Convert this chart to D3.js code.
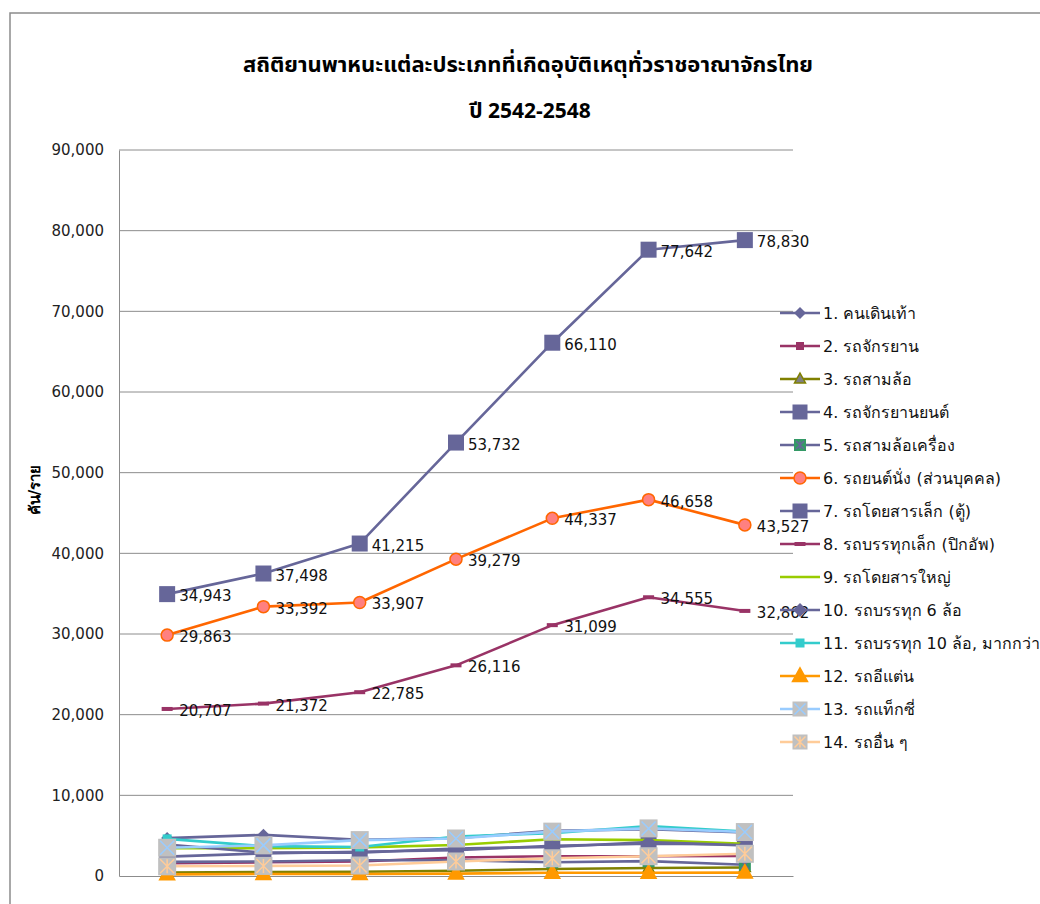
<!DOCTYPE html>
<html><head><meta charset="utf-8">
<script src="https://cdn.jsdelivr.net/npm/d3@7"></script>
<style>body{margin:0;background:#fff;overflow:hidden}</style>
</head><body>
<svg id="c" width="1040" height="904"></svg>
<script>
// ---------- data ----------
const years = ["2542","2543","2544","2545","2546","2547","2548"];
const seriesNames = [
  "1. คนเดินเท้า","2. รถจักรยาน","3. รถสามล้อ","4. รถจักรยานยนต์","5. รถสามล้อเครื่อง",
  "6. รถยนต์นั่ง (ส่วนบุคคล)","7. รถโดยสารเล็ก (ตู้)","8. รถบรรทุกเล็ก (ปิกอัพ)","9. รถโดยสารใหญ่",
  "10. รถบรรทุก 6 ล้อ","11. รถบรรทุก 10 ล้อ, มากกว่า","12. รถอีแต่น","13. รถแท็กซี่","14. รถอื่น ๆ"
];
const pedestrian   = [4700, 5100, 4500, 4700, 5600, 5800, 5400];
const bicycle      = [1600, 1700, 1800, 2300, 2450, 2450, 2500];
const tricycle     = [420, 480, 520, 660, 870, 1000, 1050];
const motorcycle   = [34943, 37498, 41215, 53732, 66110, 77642, 78830];
const tuktuk       = [1750, 1800, 1950, 1950, 1700, 1850, 1400];
const car          = [29863, 33392, 33907, 39279, 44337, 46658, 43527];
const minibus      = [2400, 2800, 3000, 3200, 3750, 4000, 3900];
const pickup       = [20707, 21372, 22785, 26116, 31099, 34555, 32862];
const bus          = [3450, 3450, 3550, 3850, 4550, 4450, 4000];
const truck6       = [3900, 2900, 2900, 3400, 3600, 4200, 3800];
const truck10      = [4600, 3700, 3600, 4900, 5300, 6200, 5500];
const etan         = [200, 250, 250, 300, 400, 400, 420];
const taxi         = [3500, 3800, 4450, 4650, 5500, 5900, 5450];
const others       = [1200, 1250, 1300, 1800, 2200, 2450, 2750];
const yTicks = [0,10000,20000,30000,40000,50000,60000,70000,80000,90000];
const labeled = [3, 5, 7]; // series with data labels

const seriesValues = [pedestrian,bicycle,tricycle,motorcycle,tuktuk,car,minibus,pickup,bus,truck6,truck10,etan,taxi,others];

// styles
const styles = [
  {line:"#666699", m:"diamond", size:6, fill:"#666699", stroke:"#666699"},
  {line:"#993366", m:"square", size:8, fill:"#993366", stroke:"#993366"},
  {line:"#808000", m:"triangle", size:11, fill:"#808080", stroke:"#808000"},
  {line:"#666699", m:"square", size:16, fill:"#666699", stroke:"#666699"},
  {line:"#666699", m:"starsq", size:12, fill:"#339966", stroke:"#666699"},
  {line:"#FF6600", m:"circle", size:6, fill:"#FF8080", stroke:"#FF6600"},
  {line:"#666699", m:"square", size:16, fill:"#666699", stroke:"#666699"},
  {line:"#993366", m:"dash", size:11, fill:"#993366", stroke:"#993366"},
  {line:"#99CC00", m:"none"},
  {line:"#666699", m:"diamond", size:7, fill:"#666699", stroke:"#666699"},
  {line:"#33CCCC", m:"square", size:9, fill:"#33CCCC", stroke:"#33CCCC"},
  {line:"#FF9900", m:"triangle", size:15, fill:"#FF9900", stroke:"#FF9900"},
  {line:"#99CCFF", m:"xsq", size:18, fill:"#C0C0C0", stroke:"#99CCFF"},
  {line:"#FFCC99", m:"starsq", size:18, fill:"#C0C0C0", stroke:"#FFCC99"}
];

const svg = d3.select("#c");
const W = 1040, H = 904;
const pLeft = 119, pRight = 793, pTop = 150, pBottom = 876;

const x = d3.scaleBand().domain(years).range([pLeft, pRight]);
const cx = d => x(d) + x.bandwidth()/2;
const y = d3.scaleLinear().domain([0, 90000]).range([pBottom, pTop]);

// outer chart border
svg.append("path").attr("d", `M10,${H+5} V13 H${W+5}`).attr("fill","none").attr("stroke","#8c8c8c").attr("stroke-width",1.5);

// title
const titleFont = "'Noto Sans Thai','Noto Serif Thai','Liberation Serif','DejaVu Serif',serif";
svg.append("text").attr("x",528).attr("y",72).attr("text-anchor","middle")
  .attr("font-family",titleFont).attr("font-weight","bold").attr("font-size",22)
  .text("สถิติยานพาหนะแต่ละประเภทที่เกิดอุบัติเหตุทั่วราชอาณาจักรไทย");
svg.append("text").attr("x",530).attr("y",118).attr("text-anchor","middle")
  .attr("font-family",titleFont).attr("font-weight","bold").attr("font-size",21)
  .text("ปี 2542-2548");

// gridlines
svg.append("g").selectAll("line").data(yTicks.filter(d=>d>0)).join("line")
  .attr("x1",pLeft).attr("x2",pRight).attr("y1",d=>y(d)).attr("y2",d=>y(d))
  .attr("stroke","#8c8c8c").attr("stroke-width",1);

// y axis
const yAxis = svg.append("g").attr("transform",`translate(${pLeft},0)`)
  .call(d3.axisLeft(y).tickValues(yTicks).tickFormat(d3.format(",")).tickSize(0).tickPadding(15));
yAxis.select(".domain").attr("stroke","#8c8c8c");
yAxis.selectAll("text").attr("font-family","'DejaVu Sans',sans-serif").attr("font-size",15).attr("fill","#222");

// x axis (category labels lie below the visible crop, so none are drawn)
const xAxis = svg.append("g").attr("transform",`translate(0,${pBottom})`)
  .call(d3.axisBottom(x).tickSize(0).tickFormat(() => ""));
xAxis.select(".domain").attr("stroke","#8c8c8c");

// y title
svg.append("text").attr("transform","translate(40,490) rotate(-90)").attr("text-anchor","middle")
  .attr("font-family","'DejaVu Sans','Noto Sans',sans-serif").attr("font-weight","bold").attr("font-size",15)
  .text("คัน/ราย");

function drawMarker(g, st, px, py){
  const s = st.size;
  if (st.m === "none") return;
  if (st.m === "square") {
    g.append("rect").attr("x",px-s/2).attr("y",py-s/2).attr("width",s).attr("height",s).attr("fill",st.fill);
  } else if (st.m === "diamond") {
    g.append("path").attr("d",`M${px},${py-s}L${px+s},${py}L${px},${py+s}L${px-s},${py}Z`).attr("fill",st.fill);
  } else if (st.m === "triangle") {
    const h = s*0.9;
    g.append("path").attr("d",`M${px},${py-h*0.6}L${px+s/2},${py+h*0.4}L${px-s/2},${py+h*0.4}Z`)
      .attr("fill",st.fill).attr("stroke",st.stroke).attr("stroke-width",1.5);
  } else if (st.m === "circle") {
    g.append("circle").attr("cx",px).attr("cy",py).attr("r",s).attr("fill",st.fill).attr("stroke",st.stroke).attr("stroke-width",1.5);
  } else if (st.m === "dash") {
    g.append("rect").attr("x",px-s/2).attr("y",py-2).attr("width",s).attr("height",4).attr("fill",st.fill);
  } else if (st.m === "xsq" || st.m === "starsq") {
    g.append("rect").attr("x",px-s/2).attr("y",py-s/2).attr("width",s).attr("height",s).attr("fill",st.fill);
    const a = s/2 - 2;
    g.append("path").attr("d",`M${px-a},${py-a}L${px+a},${py+a}M${px+a},${py-a}L${px-a},${py+a}` + (st.m==="starsq"?`M${px},${py-a}V${py+a}`:""))
      .attr("stroke",st.stroke).attr("stroke-width",1.5).attr("fill","none");
  }
}

const line = d3.line().x((d,i)=>cx(years[i])).y(d=>y(d));

// series
seriesValues.forEach((vals, si) => {
  const st = styles[si];
  const g = svg.append("g");
  g.append("path").attr("d", line(vals)).attr("fill","none").attr("stroke",st.line)
    .attr("stroke-width",2.6).attr("stroke-linejoin","round");
  vals.forEach((v,i)=> drawMarker(g, st, cx(years[i]), y(v)));
});

// data labels
labeled.forEach(si => {
  svg.append("g").selectAll("text").data(seriesValues[si]).join("text")
    .attr("x",(d,i)=>cx(years[i])+12).attr("y",d=>y(d)+7)
    .attr("font-family","'DejaVu Sans',sans-serif").attr("font-size",15).attr("fill","#111")
    .text(d=>d3.format(",")(d));
});

// legend
const lg = svg.append("g");
seriesNames.forEach((name, i) => {
  const ly = 313 + i*33;
  const st = styles[i];
  const g = lg.append("g");
  g.append("line").attr("x1",780).attr("x2",820).attr("y1",ly).attr("y2",ly).attr("stroke",st.line).attr("stroke-width",2.6);
  const lst = Object.assign({}, st);
  if (lst.size > 15) lst.size = 15;
  drawMarker(g, lst, 800, ly);
  g.append("text").attr("x",823).attr("y",ly+6).attr("font-family","'DejaVu Sans','Noto Sans',sans-serif")
    .attr("font-size",16).attr("fill","#111").text(name);
});
</script>
</body></html>
